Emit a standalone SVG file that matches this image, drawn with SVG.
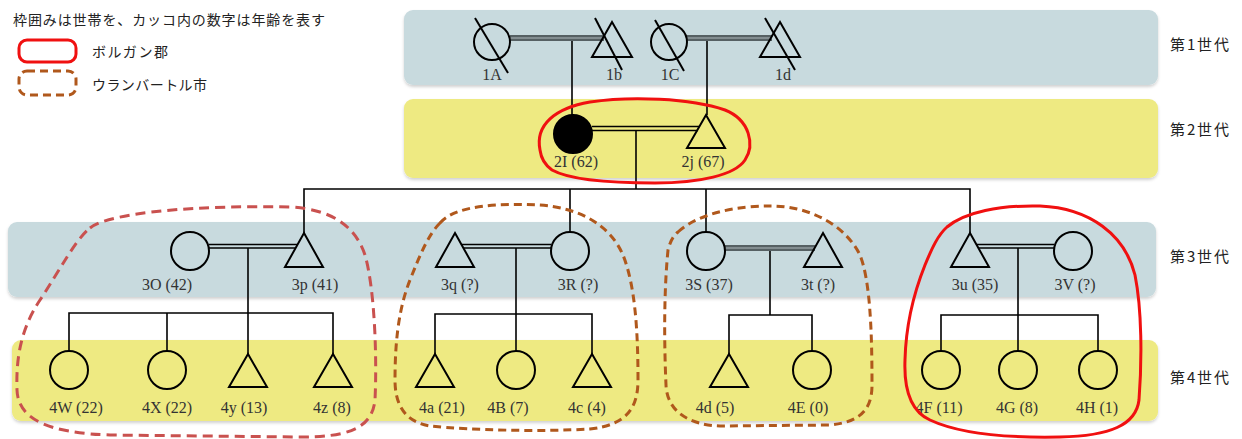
<svg xmlns="http://www.w3.org/2000/svg" width="1242" height="439" viewBox="0 0 1242 439">
<defs>
<filter id="sh" x="-5%" y="-20%" width="110%" height="140%">
<feDropShadow dx="0" dy="2" stdDeviation="1.5" flood-color="#000" flood-opacity="0.18"/>
</filter>
</defs>
<style>
.blue{fill:#c8dade;filter:url(#sh)}
.yel{fill:#eeea82;filter:url(#sh)}
.n{fill:none;stroke:#000;stroke-width:2}
.f{fill:#000;stroke:#000;stroke-width:2}
.ln{fill:none;stroke:#000;stroke-width:1.6}
.thk{fill:none;stroke:#566063;stroke-width:6}
.thki{fill:none;stroke:#838d90;stroke-width:2}
.dbl{fill:none;stroke:#000;stroke-width:1.3}
.lab{font-family:"Liberation Serif","DejaVu Serif",serif;font-size:16px;fill:#333;text-anchor:middle}
.jp{font-family:"Noto Sans CJK JP","Noto Sans",sans-serif;font-size:14px;fill:#222}
.gen{font-family:"Noto Sans CJK JP","Noto Sans",sans-serif;font-size:15px;fill:#222}
.red{fill:none;stroke:#f01010;stroke-width:3}
.dred{fill:none;stroke:#c9514f;stroke-width:3;stroke-dasharray:10 6}
.brn{fill:none;stroke:#b0581c;stroke-width:3;stroke-dasharray:8 5}
</style>

<g id="bands">
<rect class="blue" x="404" y="10" width="754" height="75" rx="9"/>
<rect class="yel" x="404" y="99" width="754" height="79" rx="9"/>
<rect class="blue" x="8" y="222" width="1148" height="75" rx="9"/>
<rect class="yel" x="12" y="340" width="1146" height="81" rx="9"/>
</g>

<g id="legend">
<text class="jp" x="13" y="25" textLength="312">枠囲みは世帯を、カッコ内の数字は年齢を表す</text>
<rect class="red" x="19" y="40" width="57" height="22" rx="8"/>
<text class="jp" x="92" y="57" textLength="76">ボルガン郡</text>
<rect class="brn" x="19" y="71" width="57" height="24" rx="8"/>
<text class="jp" x="92" y="90" textLength="115">ウランバートル市</text>
</g>

<g id="generation-labels">
<text class="gen" x="1170" y="50" textLength="59">第1世代</text>
<text class="gen" x="1170" y="135" textLength="59">第2世代</text>
<text class="gen" x="1170" y="262" textLength="59">第3世代</text>
<text class="gen" x="1170" y="383" textLength="59">第4世代</text>
</g>

<g id="connectors">
<!-- gen1 marriages -->
<line class="thk" x1="510" y1="38" x2="604" y2="38"/>
<line class="thki" x1="510" y1="38" x2="604" y2="38"/>
<line class="thk" x1="687" y1="38" x2="772" y2="38"/>
<line class="thki" x1="687" y1="38" x2="772" y2="38"/>
<line class="ln" x1="572" y1="41" x2="572" y2="115"/>
<line class="ln" x1="707" y1="41" x2="707" y2="115"/>
<!-- gen2 marriage -->
<line class="dbl" x1="592" y1="126.5" x2="699" y2="126.5"/>
<line class="dbl" x1="592" y1="130.5" x2="698" y2="130.5"/>
<line class="ln" x1="636" y1="131" x2="636" y2="189"/>
<polyline class="ln" points="304,233 304,189 970,189 970,233"/>
<line class="ln" x1="570" y1="189" x2="570" y2="232"/>
<line class="ln" x1="706" y1="189" x2="706" y2="232"/>
<!-- family 3O-3p -->
<line class="dbl" x1="209" y1="244.5" x2="297" y2="244.5"/>
<line class="dbl" x1="209" y1="248" x2="295" y2="248"/>
<line class="ln" x1="248" y1="248" x2="248" y2="354"/>
<polyline class="ln" points="69,351 69,313 333,313 333,354"/>
<line class="ln" x1="167" y1="313" x2="167" y2="351"/>
<!-- family 3q-3R -->
<line class="dbl" x1="462" y1="244.5" x2="551" y2="244.5"/>
<line class="dbl" x1="464" y1="248" x2="551" y2="248"/>
<line class="ln" x1="516" y1="248" x2="516" y2="351"/>
<polyline class="ln" points="435,354 435,314 592,314 592,354"/>
<!-- family 3S-3t -->
<line class="thk" x1="725" y1="248" x2="815" y2="248"/>
<line class="thki" x1="725" y1="248" x2="815" y2="248"/>
<line class="ln" x1="770" y1="251" x2="770" y2="315"/>
<polyline class="ln" points="729,354 729,315 812,315 812,351"/>
<!-- family 3u-3V -->
<line class="dbl" x1="977" y1="244.5" x2="1054" y2="244.5"/>
<line class="dbl" x1="979" y1="248" x2="1054" y2="248"/>
<line class="ln" x1="1018" y1="248" x2="1018" y2="351"/>
<polyline class="ln" points="941,351 941,315 1098,315 1098,351"/>
</g>

<g id="n1A"><circle class="n" cx="492" cy="42" r="18"/><line class="n" x1="475" y1="18" x2="508" y2="73"/><text class="lab" x="492" y="80">1A</text></g>
<g id="n1b"><polygon class="n" points="612,22 632,57 592,57"/><line class="n" x1="595" y1="18" x2="622" y2="70"/><text class="lab" x="614" y="80">1b</text></g>
<g id="n1C"><circle class="n" cx="669" cy="42" r="18"/><line class="n" x1="655" y1="20" x2="684" y2="71"/><text class="lab" x="670" y="80">1C</text></g>
<g id="n1d"><polygon class="n" points="780,22 800,57 760,57"/><line class="n" x1="765" y1="18" x2="795" y2="70"/><text class="lab" x="783" y="80">1d</text></g>

<g id="n2I"><circle class="f" cx="573" cy="134" r="19"/><text class="lab" x="576" y="167">2I (62)</text></g>
<g id="n2j"><polygon class="n" points="706,115 725,148 687,148"/><text class="lab" x="703" y="167">2j (67)</text></g>

<g id="n3O"><circle class="n" cx="190" cy="251" r="19"/><text class="lab" x="167" y="290">3O (42)</text></g>
<g id="n3p"><polygon class="n" points="304,233 323,267 285,267"/><text class="lab" x="315" y="290">3p (41)</text></g>
<g id="n3q"><polygon class="n" points="455,233 474,267 436,267"/><text class="lab" x="460" y="290">3q (?)</text></g>
<g id="n3R"><circle class="n" cx="570" cy="251" r="19"/><text class="lab" x="578" y="290">3R (?)</text></g>
<g id="n3S"><circle class="n" cx="706" cy="251" r="19"/><text class="lab" x="709" y="290">3S (37)</text></g>
<g id="n3t"><polygon class="n" points="823,233 842,267 804,267"/><text class="lab" x="818" y="290">3t (?)</text></g>
<g id="n3u"><polygon class="n" points="970,233 989,267 951,267"/><text class="lab" x="975" y="290">3u (35)</text></g>
<g id="n3V"><circle class="n" cx="1073" cy="251" r="19"/><text class="lab" x="1075" y="290">3V (?)</text></g>

<g id="n4W"><circle class="n" cx="69" cy="370" r="19"/><text class="lab" x="76" y="413">4W (22)</text></g>
<g id="n4X"><circle class="n" cx="167" cy="370" r="19"/><text class="lab" x="167" y="413">4X (22)</text></g>
<g id="n4y"><polygon class="n" points="248,354 267,387 229,387"/><text class="lab" x="244" y="413">4y (13)</text></g>
<g id="n4z"><polygon class="n" points="333,354 352,387 314,387"/><text class="lab" x="332" y="413">4z (8)</text></g>
<g id="n4a"><polygon class="n" points="435,354 454,387 416,387"/><text class="lab" x="442" y="413">4a (21)</text></g>
<g id="n4B"><circle class="n" cx="516" cy="370" r="19"/><text class="lab" x="508" y="413">4B (7)</text></g>
<g id="n4c"><polygon class="n" points="592,354 611,387 573,387"/><text class="lab" x="587" y="413">4c (4)</text></g>
<g id="n4d"><polygon class="n" points="729,354 748,387 710,387"/><text class="lab" x="715" y="413">4d (5)</text></g>
<g id="n4E"><circle class="n" cx="812" cy="370" r="19"/><text class="lab" x="808" y="413">4E (0)</text></g>
<g id="n4F"><circle class="n" cx="941" cy="370" r="19"/><text class="lab" x="939" y="413">4F (11)</text></g>
<g id="n4G"><circle class="n" cx="1018" cy="370" r="19"/><text class="lab" x="1017" y="413">4G (8)</text></g>
<g id="n4H"><circle class="n" cx="1098" cy="370" r="19"/><text class="lab" x="1097" y="413">4H (1)</text></g>

<g id="households">
<path class="red" d="M 540,150 C 535,125 555,108 590,102 C 630,96 690,98 725,110 C 750,120 755,145 745,160 C 735,175 700,183 655,183 C 610,183 570,180 552,170 C 545,165 541,158 540,150 Z"/>
<path class="dred" d="M 90,228 C 110,212 200,205 290,207 C 330,209 355,225 365,255 C 375,290 377,360 375,400 C 372,430 345,437 300,437 L 110,435 C 50,433 18,420 17,390 C 16,360 20,330 40,300 C 60,270 75,240 90,228 Z"/>
<path class="brn" d="M 440,223 C 455,205 500,203 540,205 C 580,208 610,225 623,255 C 635,285 638,330 638,380 C 638,410 625,425 590,429 C 540,432 470,430 430,426 C 405,422 395,405 395,380 C 395,345 398,310 410,280 C 420,255 428,235 440,223 Z"/>
<path class="brn" d="M 678,232 C 700,212 740,206 770,206 C 810,206 845,225 860,255 C 870,280 872,330 872,385 C 872,410 860,422 830,425 L 720,426 C 690,425 667,412 666,385 C 664,340 664,290 668,250 C 670,242 673,236 678,232 Z"/>
<path class="red" d="M 947,227 C 965,212 1000,205 1040,206 C 1090,208 1125,235 1135,275 C 1142,310 1142,360 1139,400 C 1136,425 1110,436 1060,437 C 1010,438 960,434 930,420 C 908,410 904,385 905,360 C 906,320 915,290 925,265 C 932,248 938,235 947,227 Z"/>
</g>
</svg>
